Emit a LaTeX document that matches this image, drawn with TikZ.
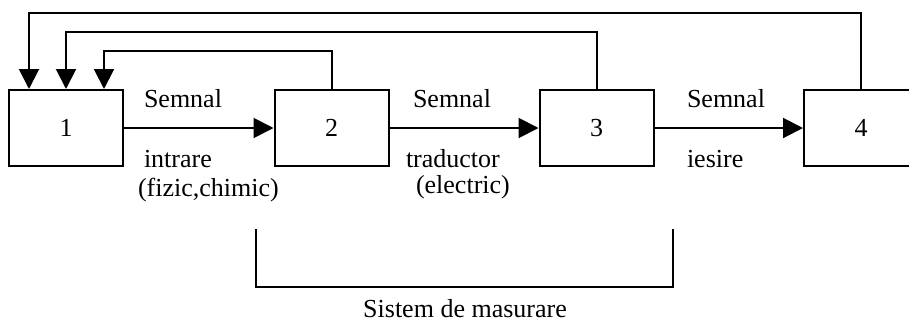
\documentclass[tikz,border=0pt]{standalone}
\usepackage{fontspec}
\setmainfont{Liberation Serif}
\usetikzlibrary{arrows.meta,%
                positioning}

\begin{document}
\begin{tikzpicture}[x=0.5pt,y=-0.5pt,line width=1pt,
  font=\fontsize{13}{15}\selectfont,
  bloc/.style={draw,minimum width=57pt,minimum height=38pt,inner sep=0pt},
  lbl/.style={anchor=base west,inner sep=0pt},
  sag/.style={-{Triangle[length=10pt,width=10pt]}}]
\useasboundingbox (0,0) rectangle (909,322);
% blocurile
\node[bloc] (b1) at (66,128) {1};
\node[bloc] (b2) at (331.5,128) {2};
\node[bloc] (b3) at (596.5,128) {3};
\node[bloc] (b4) at (861,128) {4};
% etichete pe semnale
\node[lbl] (s1) at (143,107) {Semnal};
\node[lbl] (i1) at (143,167) {intrare};
\node[lbl] (f1) at (137,196) {(fizic,chimic)};
\node[lbl] (s2) at (412,107) {Semnal};
\node[lbl] (t2) at (405,167) {traductor};
\node[lbl] (e2) at (415,193) {(electric)};
\node[lbl] (s3) at (686,107) {Semnal};
\node[lbl] (o3) at (686,167) {iesire};
% lantul direct
\draw[sag] (b1) -- (b2);
\draw[sag] (b2) -- (b3);
\draw[sag] (b3) -- (b4);
% reactiile inapoi spre 1
\draw[sag] (b2.north) -- ++(0,-38) -| ([xshift=19pt]b1.north);
\draw[sag] (b3.north) -- ++(0,-57) -| (b1.north);
\draw[sag] (b4.north) -- ++(0,-76) -| ([xshift=-18.5pt]b1.north);
% acolada sistemului
\coordinate (br1) at (256,229);
\coordinate (br2) at (673,229);
\draw (br1) -- ++(0,58) -| (br2);
\node[anchor=base,inner sep=0pt] (sdm) at (465,317) {Sistem de masurare};
\end{tikzpicture}
\end{document}
